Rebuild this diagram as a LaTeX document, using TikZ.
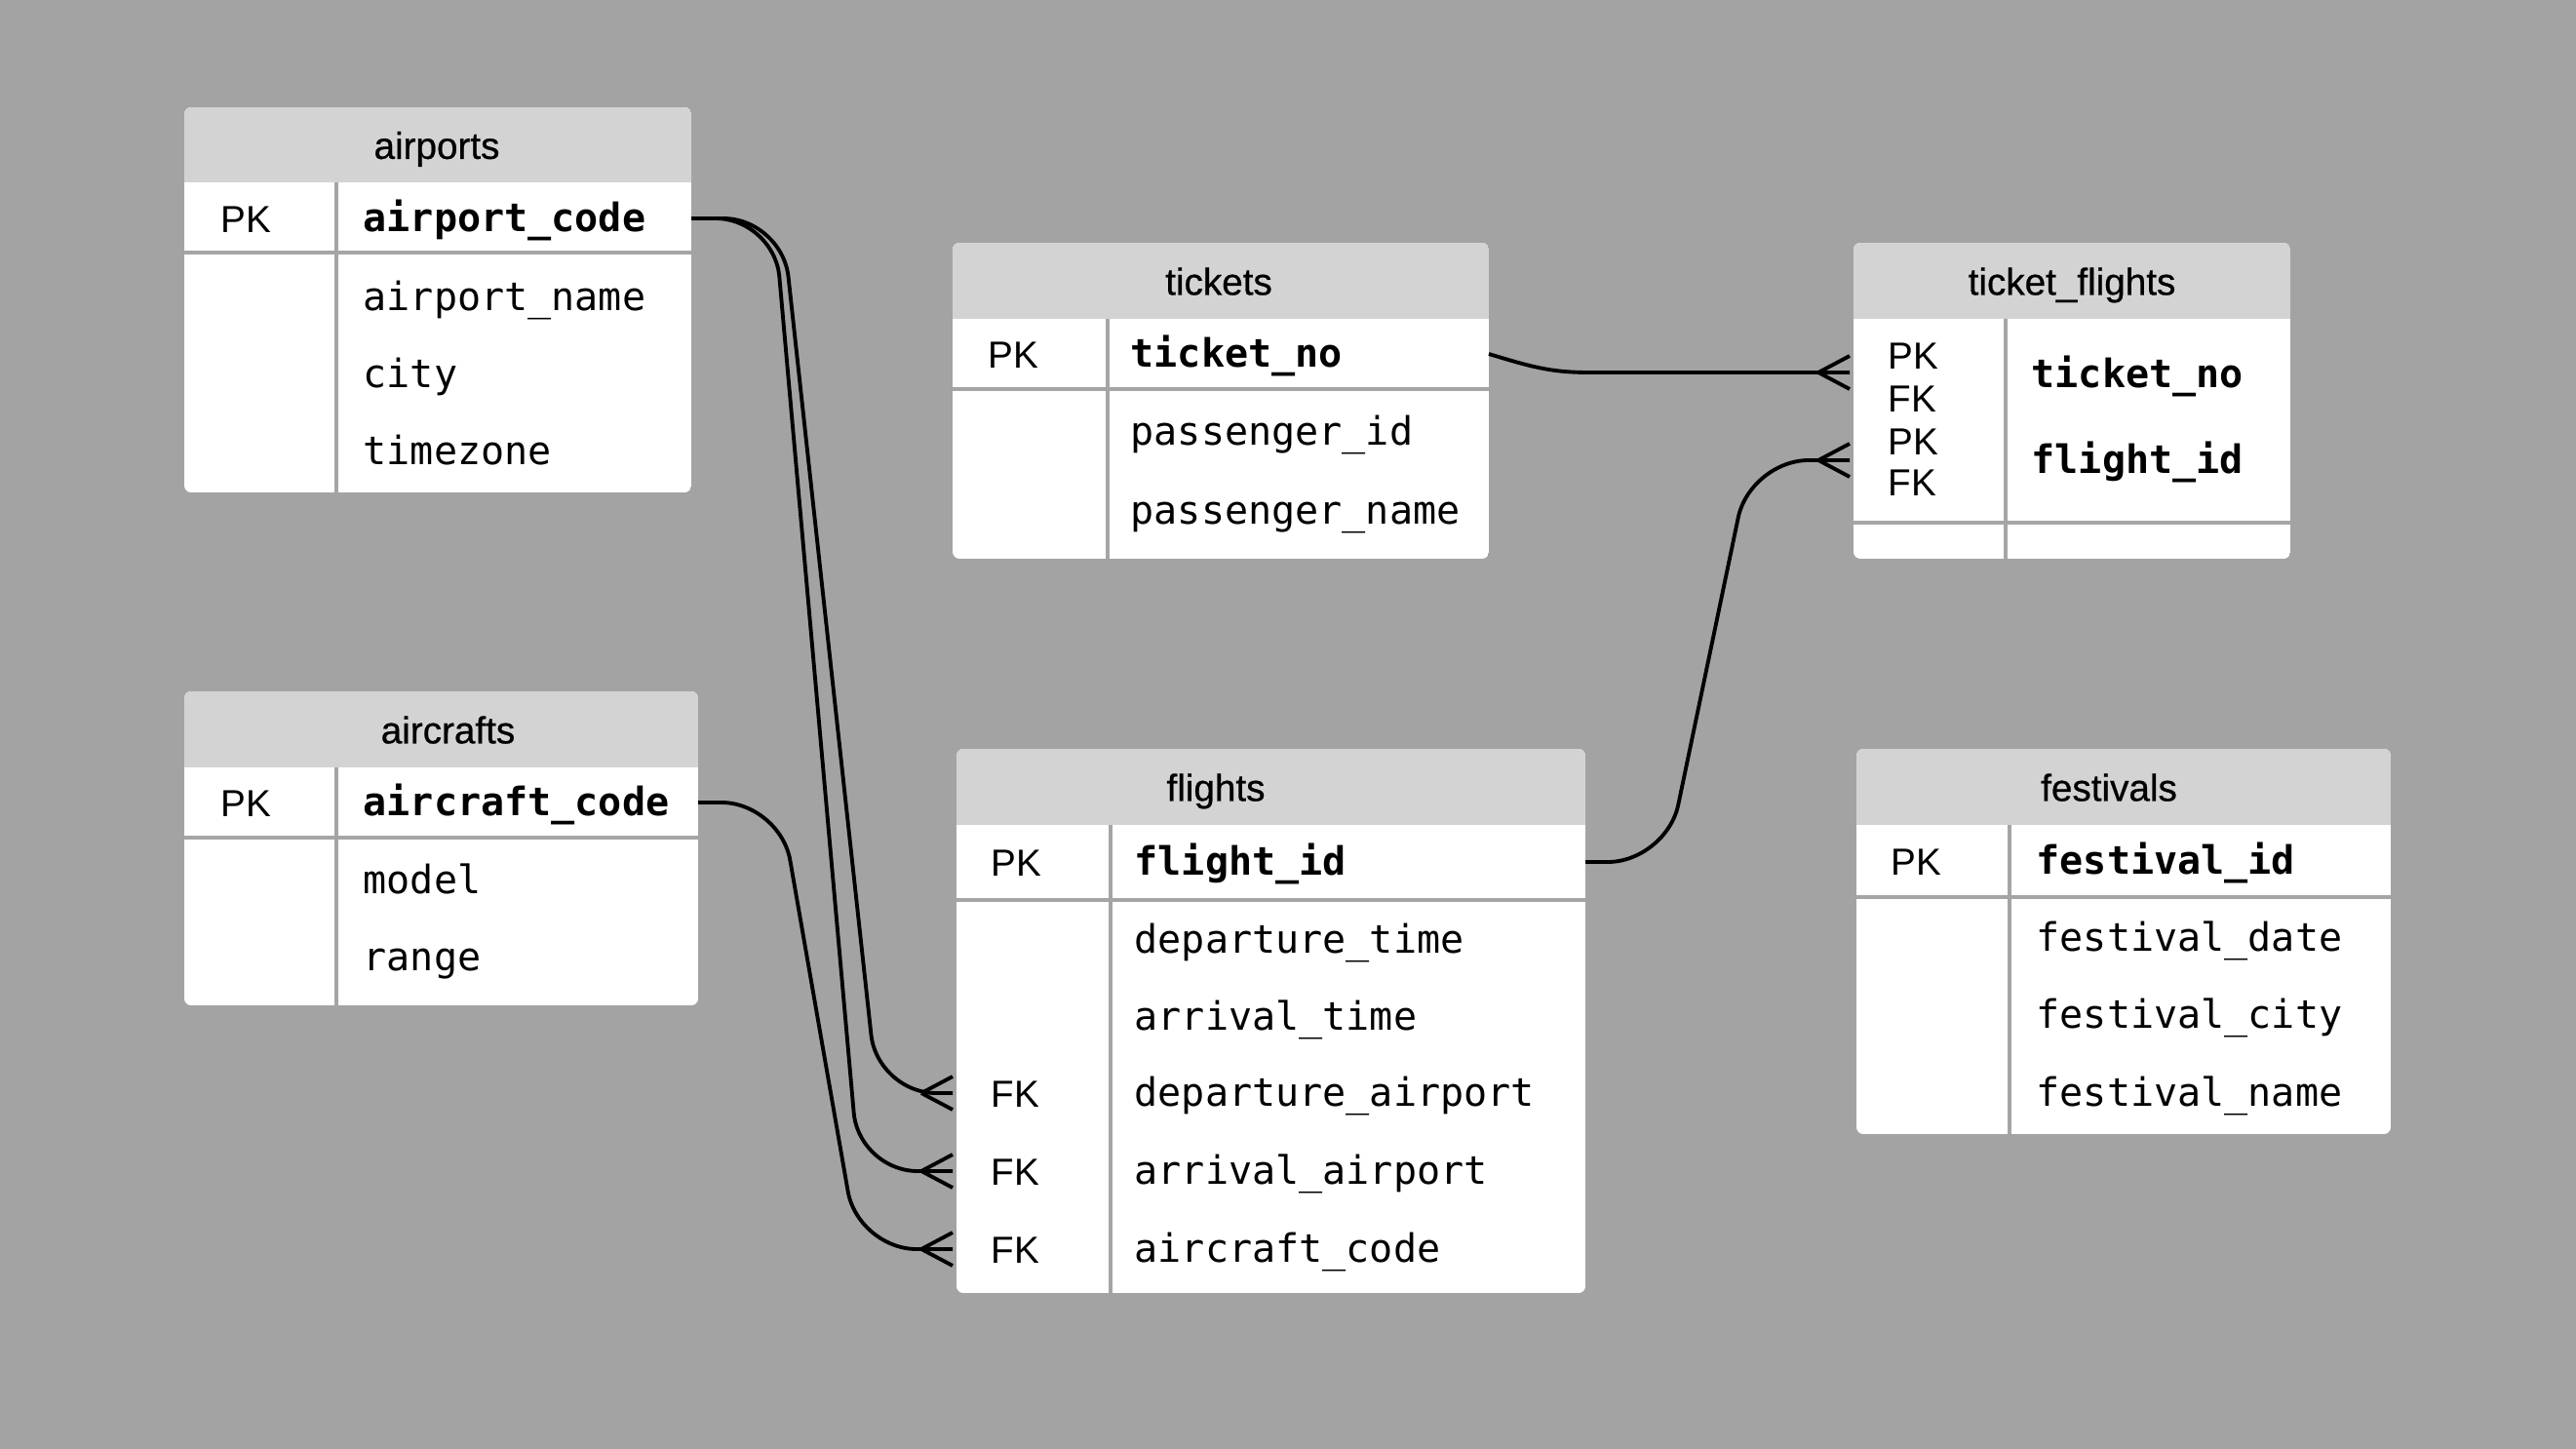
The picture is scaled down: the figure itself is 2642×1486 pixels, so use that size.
\documentclass[tikz,border=0pt]{standalone}
\usepackage{fontspec}
\newfontfamily\hdrfont[FakeBold=0.6]{Liberation Sans}
\newfontfamily\keyfont{Liberation Sans}
\newfontfamily\codefont{DejaVu Sans Mono}
\usetikzlibrary{fit,calc}
\definecolor{canvas}{RGB}{163,163,163}
\definecolor{hdrfill}{RGB}{211,211,211}
\definecolor{divcolor}{RGB}{165,165,165}

\tikzset{
  tblbox/.style={inner sep=0pt, outer sep=0pt},
  tbltitle/.style={font=\hdrfont\fontsize{11}{13}\selectfont, inner sep=0pt, text height=1.02em, text depth=0.2em},
  keytxt/.style={font=\keyfont\fontsize{11}{13}\selectfont, anchor=west, inner sep=0pt, text height=0.8em, text depth=0em},
  fld/.style={font=\codefont\fontsize{11.4}{13}\selectfont, anchor=west, inner sep=0pt, text height=0.98em, text depth=0.2em},
  pkfld/.style={fld, font=\codefont\bfseries\fontsize{11.4}{13}\selectfont},
  divider/.style={draw=divcolor, line width=1pt},
  conn/.style={draw=black, line width=1.1pt, rounded corners=6mm},
  crowfoot/.pic={\draw[line width=1.1pt] (-32,0) -- (0,-17) (-32,0) -- (0,17);},
}

% table frame: name, left, top, right, bottom, header bottom, column x, key-row divider y
\newcommand\erframe[8]{%
  \node[tblbox, fit={(#2,#3) (#4,#5)}] (#1) {};
  \begin{scope}
    \clip[rounded corners=0.7mm] (#2,#3) rectangle (#4,#5);
    \fill[white] (#2,#3) rectangle (#4,#5);
    \fill[hdrfill] (#2,#3) rectangle (#4,#6);
  \end{scope}
  \draw[divider] (#2,#8) -- (#4,#8);
  \draw[divider] (#7,#6) -- (#7,#5);
}

\begin{document}
\begin{tikzpicture}[x=0.1mm, y=-0.1mm]
\useasboundingbox (0,0) rectangle (2642,1486);
\fill[canvas] (0,0) rectangle (2642,1486);

% airports
\erframe{airports}{189}{110}{709}{505}{187}{345}{259}
\node[tbltitle] (t_airports) at (448,148.5) {airports};
\node[keytxt] (k_ap) at (226,224) {PK};
\node[pkfld] (ap_code) at (372,224) {airport\_code};
\node[fld] (ap_name) at (372,305) {airport\_name};
\node[fld] (ap_city) at (372,384) {city};
\node[fld] (ap_tz) at (372,463) {timezone};

% aircrafts
\erframe{aircrafts}{189}{709}{716}{1031}{787}{345}{859}
\node[tbltitle] (t_aircrafts) at (459.5,748) {aircrafts};
\node[keytxt] (k_ac) at (226,823) {PK};
\node[pkfld] (ac_code) at (372,823) {aircraft\_code};
\node[fld] (ac_model) at (372,903) {model};
\node[fld] (ac_range) at (372,982) {range};

% tickets
\erframe{tickets}{977}{249}{1527}{573}{327}{1136}{399}
\node[tbltitle] (t_tickets) at (1250,288) {tickets};
\node[keytxt] (k_tk) at (1013,363) {PK};
\node[pkfld] (tk_no) at (1159,363) {ticket\_no};
\node[fld] (tk_pid) at (1159,443) {passenger\_id};
\node[fld] (tk_pname) at (1159,524) {passenger\_name};

% ticket_flights
\erframe{ticket_flights}{1901}{249}{2349}{573}{327}{2057}{536}
\node[tbltitle] (t_tf) at (2125,288) {ticket\_flights};
\node[keytxt] (k_tf1) at (1936,364) {PK};
\node[keytxt] (k_tf2) at (1936,408) {FK};
\node[keytxt] (k_tf3) at (1936,452) {PK};
\node[keytxt] (k_tf4) at (1936,494) {FK};
\node[pkfld] (tf_tk) at (2083,384) {ticket\_no};
\node[pkfld] (tf_fl) at (2083,472) {flight\_id};

% flights
\erframe{flights}{981}{768}{1626}{1326}{846}{1139}{923}
\node[tbltitle] (t_flights) at (1247,807) {flights};
\node[keytxt] (k_fl) at (1016,884) {PK};
\node[keytxt] (k_dep) at (1016,1121) {FK};
\node[keytxt] (k_arr) at (1016,1201) {FK};
\node[keytxt] (k_acf) at (1016,1281) {FK};
\node[pkfld] (fl_id) at (1163,884) {flight\_id};
\node[fld] (fl_dt) at (1163,964) {departure\_time};
\node[fld] (fl_at) at (1163,1043) {arrival\_time};
\node[fld] (fl_dep) at (1163,1121) {departure\_airport};
\node[fld] (fl_arr) at (1163,1201) {arrival\_airport};
\node[fld] (fl_ac) at (1163,1281) {aircraft\_code};

% festivals
\erframe{festivals}{1904}{768}{2452}{1163}{846}{2061}{920}
\node[tbltitle] (t_festivals) at (2163,807) {festivals};
\node[keytxt] (k_fe) at (1939,883) {PK};
\node[pkfld] (fe_id) at (2088,883) {festival\_id};
\node[fld] (fe_date) at (2088,962) {festival\_date};
\node[fld] (fe_city) at (2088,1041) {festival\_city};
\node[fld] (fe_name) at (2088,1121) {festival\_name};

% relationships
\draw[conn] (airports.east |- ap_code) -- (802,224) -- (900,1121) -- ($(flights.west |- fl_dep)+(-4,0)$);
\draw[conn] (airports.east |- ap_code) -- (794,224) -- (881,1201) -- ($(flights.west |- fl_arr)+(-4,0)$);
\draw[conn] (aircrafts.east |- ac_code) -- (800,823) -- (880,1281) -- ($(flights.west |- fl_ac)+(-4,0)$);
\draw[conn, sharp corners] (tickets.east |- tk_no) .. controls (1570,376) and (1590,382) .. (1630,382) -- ($(ticket_flights.west |- tf_tk)+(-4,-2)$);
\draw[conn] (flights.east |- fl_id) -- (1709,884) -- (1795,472) -- ($(ticket_flights.west |- tf_fl)+(-4,0)$);

\pic at ($(flights.west |- fl_dep)+(-4,0)$) {crowfoot};
\pic at ($(flights.west |- fl_arr)+(-4,0)$) {crowfoot};
\pic at ($(flights.west |- fl_ac)+(-4,0)$) {crowfoot};
\pic at ($(ticket_flights.west |- tf_tk)+(-4,-2)$) {crowfoot};
\pic at ($(ticket_flights.west |- tf_fl)+(-4,0)$) {crowfoot};
\end{tikzpicture}
\end{document}
